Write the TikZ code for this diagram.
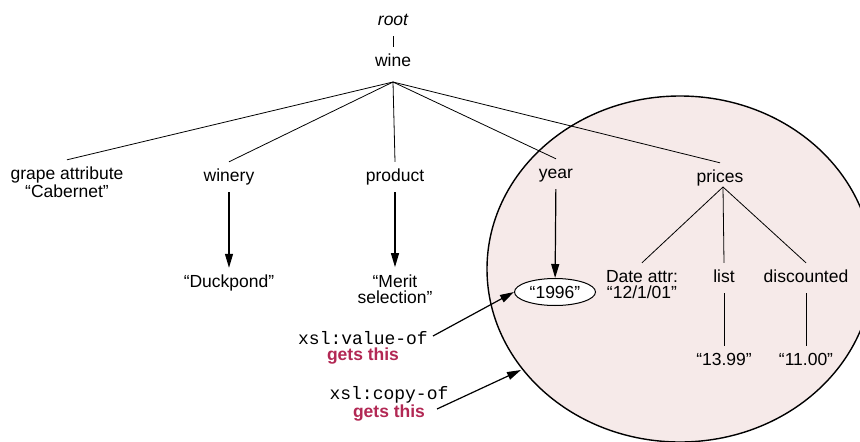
\documentclass[tikz,border=0pt]{standalone}
\usepackage{fontspec}
\setmainfont{Liberation Sans}
\setmonofont{Liberation Mono}
\usetikzlibrary{arrows.meta}
\usetikzlibrary{shapes.geometric}
\definecolor{circlepink}{RGB}{246,234,233}
\definecolor{getsred}{RGB}{178,40,84}

\begin{document}
\begin{tikzpicture}[x=1pt, y=-1pt,
        font=\fontsize{17.5}{16}\selectfont,
        word/.style={inner xsep=1pt, inner ysep=7pt, text height=12pt, text depth=4pt, anchor=base},
        pair/.style={inner xsep=1pt, inner ysep=7pt, align=center, anchor=base},
        branch/.style={line width=0.8pt},
        pointer/.style={line width=1.2pt, -{Triangle[length=14pt,width=8pt]}}]
        \useasboundingbox (0,0) rectangle (860,442);

        % shaded region
        \begin{scope}
            \clip (0,0) rectangle (860,442);
            \draw[line width=1.4pt, fill=circlepink] (680,269) ellipse [x radius=193, y radius=173];
        \end{scope}

        % top
        \node[word, font=\fontsize{17.5}{16}\selectfont\itshape] at (393,25) (root) {root};
        \node[word] at (393,66) (wine) {wine};
        \coordinate (winejoin) at (393,82);
        \draw[branch] (root) -- (wine);

        % children of wine (pair nodes sit on their last line)
        \node[pair] at (67,197) (grape) {grape attribute\\“Cabernet”};
        \node[word] at (229,181) (winery) {winery};
        \node[word] at (395,181) (product) {product};
        \node[word] at (556,178) (year) {year};
        \node[word] at (720,182) (prices) {prices};
        \foreach \child in {grape, winery, product, year, prices}
            \draw[branch] (winejoin) -- (\child.north);

        % values
        \node[word] at (229,287) (duckpond) {“Duckpond”};
        \node[pair] at (395,303) (merit) {“Merit\\selection”};
        \node[draw, ellipse, fill=white, line width=1pt, minimum width=81, minimum height=27, inner sep=0pt] at (555,292) (vintage) {“1996”};
        \draw[pointer] (winery) -- (duckpond);
        \draw[pointer] (product) -- (merit);
        \draw[pointer] (year) -- (vintage);

        % prices subtree
        \coordinate (pricesjoin) at (723,187);
        \node[pair] at (642,298) (date) {Date attr:\\“12/1/01”};
        \node[word] at (724,282) (list) {list};
        \node[word] at (806,282) (discounted) {discounted};
        \node[word] at (724,365) (listprice) {“13.99”};
        \node[word] at (806,365) (saleprice) {“11.00”};
        \foreach \leaf in {date, list, discounted}
            \draw[branch] (pricesjoin) -- (\leaf.north);
        \draw[branch] (list) -- (listprice);
        \draw[branch] (discounted) -- (saleprice);

        % xsl callouts
        \node[pair, inner sep=1pt] at (363,360) (valueof) {{\fontsize{18}{18}\selectfont\ttfamily xsl:value-of}\\{\color{getsred}\bfseries gets this}};
        \node[pair, inner sep=1pt] at (389,417) (copyof) {{\fontsize{18}{18}\selectfont\ttfamily xsl:copy-of}\\{\color{getsred}\bfseries gets this}};
        \coordinate (valuetail) at (433,336);
        \coordinate (copytail) at (437,409);
        \coordinate (rimpoint) at (521,370);
        \draw[pointer] (valuetail) -- (vintage.west);
        \draw[pointer] (copytail) -- (rimpoint);
    \end{tikzpicture}
\end{document}
